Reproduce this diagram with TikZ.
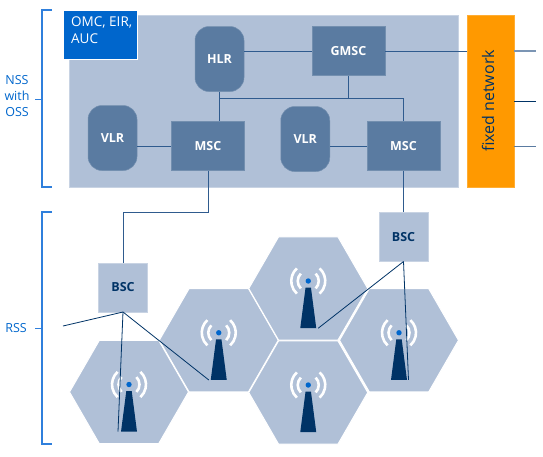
\documentclass[tikz,border=0pt]{standalone}
\usepackage{fontspec}
\setmainfont{Open Sans}
\usepackage{xcolor}
\usetikzlibrary{calc,shapes.geometric}
\definecolor{ctpale}{HTML}{B0C0D7}
\definecolor{ctmid}{HTML}{5A7BA1}
\definecolor{ctlink}{HTML}{2F5B8E}
\definecolor{ctdark}{HTML}{003366}
\definecolor{ctblue}{HTML}{0066CC}
\definecolor{ctbracket}{HTML}{2F7FDC}
\definecolor{ctorange}{HTML}{FF9900}
\tikzset{
  boxtext/.style={font=\fontsize{12.5}{15}\selectfont\bfseries, text=white},
  sysbox/.style={boxtext, fill=ctmid, draw=ctmid!85!white, line width=0.5pt, inner sep=0pt, minimum width=73pt, minimum height=49pt},
  dbbox/.style={boxtext, fill=ctmid, draw=ctmid!85!white, line width=0.5pt, inner sep=0pt, rounded corners=14pt, minimum width=49pt, minimum height=65pt},
  bscbox/.style={fill=ctpale, draw=ctpale!70!white, line width=0.5pt, inner sep=0pt, minimum width=49pt, minimum height=49pt, text=ctdark, font=\fontsize{12.5}{15}\selectfont\bfseries},
  cellhex/.style={regular polygon, regular polygon sides=6, fill=ctpale, draw=white, line width=1pt, inner sep=0pt, outer sep=0pt, minimum size=119pt},
  link/.style={ctlink, line width=1pt},
  radio/.style={ctdark, line width=0.8pt},
  bracket/.style={ctbracket, line width=1.4pt},
  sidelabel/.style={text=ctblue, font=\fontsize{12.5}{16.3}\selectfont, align=center, inner sep=0pt}
}
\newcommand{\CellSite}[2]{%
  \node[cellhex] (#1) at (#2) {};
  \begin{scope}[shift={(#1.center)}]
    \fill[ctdark] (-2.7,-1) -- (2.7,-1) -- (8,39.7) -- (-8,39.7) -- cycle;
    \fill[ctblue] (0,-7.5) circle (2.7pt);
    \draw[white, line width=2.6pt] (0,-7.5) ++(45:10.5pt) arc[start angle=45, end angle=-45, radius=10.5pt];
    \draw[white, line width=2.6pt] (0,-7.5) ++(135:10.5pt) arc[start angle=135, end angle=225, radius=10.5pt];
    \draw[white, line width=2.6pt] (0,-7.5) ++(48:17pt) arc[start angle=48, end angle=-48, radius=17pt];
    \draw[white, line width=2.6pt] (0,-7.5) ++(132:17pt) arc[start angle=132, end angle=228, radius=17pt];
  \end{scope}
}

\begin{document}
\begin{tikzpicture}[x=1pt,y=-1pt]
  \useasboundingbox (0,0) rectangle (543,456);

  \node[fill=ctpale, draw=ctpale!70!white, line width=0.5pt, minimum width=389.5pt, minimum height=171.5pt, inner sep=0pt] (nss) at (263.75,101.25) {};
  \node[fill=ctblue, draw=white, line width=1pt, minimum width=74pt, minimum height=49.5pt, inner sep=0pt] (omc) at (100.25,34.75) {};
  \node[anchor=north west, text=white, align=left, inner sep=0pt, font=\fontsize{13.5}{17}\selectfont] (omctext) at (71,17) {OMC, EIR,\\AUC};
  \node[fill=ctorange, draw=ctorange!80!white, line width=0.5pt, minimum width=46.5pt, minimum height=171.5pt, inner sep=0pt] (fixnet) at (490.5,101.25) {};
  \node[rotate=90, text=ctdark, font=\fontsize{16}{18}\selectfont, inner sep=0pt] (fixtext) at (488,101) {fixed network};

  \node[dbbox] (HLR) at (219.5,59) {HLR};
  \node[sysbox] (GMSC) at (348.5,51) {GMSC};
  \node[dbbox] (VLRa) at (112.5,138) {VLR};
  \node[sysbox] (MSCa) at (208,146) {MSC};
  \node[dbbox] (VLRb) at (305.25,139) {VLR};
  \node[sysbox] (MSCb) at (403.5,146) {MSC};
  \node[bscbox] (BSCa) at (123,287.25) {BSC};
  \node[bscbox] (BSCb) at (403.5,236.75) {BSC};

  \CellSite{cella}{129,392}
  \CellSite{cellb}{218.75,340.25}
  \CellSite{cellc}{308.25,288.5}
  \CellSite{celld}{308.25,392.5}
  \CellSite{celle}{399,340.25}

  \coordinate (bus) at (348.5,98.5);
  \coordinate (turn) at (123,212);
  \coordinate (neta) at (536,51);
  \coordinate (netb) at (536,101);
  \coordinate (netc) at (536,146);
  \draw[link] (HLR.east |- GMSC.west) -- (GMSC.west);
  \draw[link] (GMSC.east) -- (fixnet.west |- GMSC.east);
  \draw[link] (GMSC.south) -- (bus);
  \draw[link] (HLR.south) -- (HLR.south |- MSCa.north);
  \draw[link] (HLR.south |- bus) -- (bus -| MSCb.north) -- (MSCb.north);
  \draw[link] (VLRa.east |- MSCa.west) -- (MSCa.west);
  \draw[link] (VLRb.east |- MSCb.west) -- (MSCb.west);
  \draw[link] (MSCa.south) -- (MSCa.south |- turn) -- (turn) -- (BSCa.north);
  \draw[link] (MSCb.south) -- (BSCb.north);
  \draw[ctmid!80!white, line width=1.4pt] (fixnet.east |- neta) -- (neta);
  \draw[ctdark, line width=0.9pt] (fixnet.east |- netb) -- (netb);
  \draw[ctmid, line width=1pt] (fixnet.east |- netc) -- (netc);

  \coordinate (rssend) at (63,326);
  \draw[radio] (BSCa.south) -- (rssend);
  \draw[radio] (BSCa.south) -- ($(cella.center)+(-11,39.7)$);
  \draw[radio] (BSCa.south) -- ($(cellb.center)+(-10,39.7)$);
  \draw[radio] (BSCb.south) -- ($(cellc.center)+(10,39.7)$);
  \draw[radio] (BSCb.south) -- ($(celle.center)+(9.5,39.7)$);

  \coordinate (nssa) at (52,10);
  \coordinate (nssb) at (52,187);
  \coordinate (rssa) at (52,212);
  \coordinate (rssb) at (52,444);
  \draw[bracket] (nssa) -- (42,10) coordinate (nssc) -- (nssc |- nssb) -- (nssb);
  \draw[bracket] (rssa) -- (42,212) coordinate (rssc) -- (rssc |- rssb) -- (rssb);
  \node[sidelabel] (nsslabel) at (17,96) {NSS\\with\\OSS};
  \node[sidelabel] (rsslabel) at (16,328) {RSS};
  \draw[bracket, line width=1pt] (35,99) -- (nssc |- 35,99);
  \draw[bracket, line width=1pt] (35,328) -- (rssc |- 35,328);
\end{tikzpicture}
\end{document}
